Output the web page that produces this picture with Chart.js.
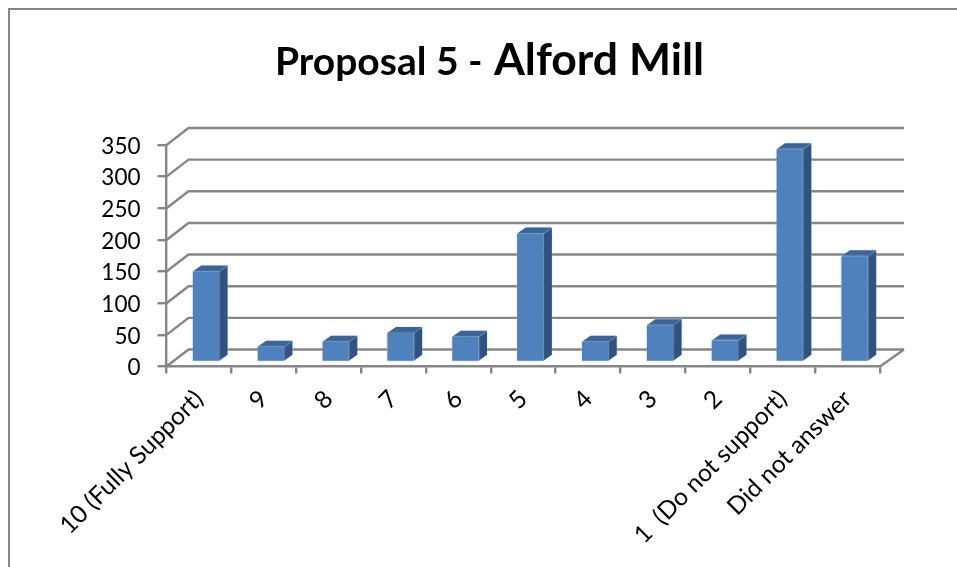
<!DOCTYPE html>
<html>
<head>
<meta charset="utf-8">
<title>Proposal 5 - Alford Mill</title>
<script src="https://cdn.jsdelivr.net/npm/chart.js@4/dist/chart.umd.min.js"></script>
<style>
  html, body { margin: 0; padding: 0; background: #fff; }
  #wrap { position: relative; width: 957px; height: 567px; overflow: hidden; }
  #frame { position: absolute; left: 8px; top: 8px; width: 960px; height: 570px; border-left: 2px solid #868686; border-top: 2px solid #868686; }
  #title { position: absolute; left: 275px; top: 31px; white-space: nowrap; font-family: Lato, sans-serif; font-weight: 700; color: #000; }
  #title .a { font-size: 39px; }
  #title .b { font-size: 44.5px; margin-left: 2px; }
  canvas { position: absolute; left: 0; top: 0; }
</style>
</head>
<body>
<div id="wrap">
  <div id="frame"></div>
  <canvas id="chart" width="957" height="567"></canvas>
  <div id="title"><span class="a">Proposal 5 - </span><span class="b">Alford Mill</span></div>
</div>
<script>
var categories = ['10 (Fully Support)', '9', '8', '7', '6', '5', '4', '3', '2', '1  (Do not support)', 'Did not answer'];
var votes = [143, 24, 32, 46, 40, 203, 32, 58, 34, 336, 167];
var yTicks = [0, 50, 100, 150, 200, 250, 300, 350];

var GRID = '#868686';
var FRONT = '#4f81bd';
var SIDE = '#30527e';
var TOP = '#3a659b';

// wall/floor offset and bar offset of the fake 3d
var WALL_X = 22, WALL_Y = 17;
var BAR_X = 7, BAR_Y = 4.5;
var DEPTH_X = 8.5, DEPTH_Y = 6;

var fake3d = {
  id: 'fake3d',
  beforeDatasetsDraw: function (chart) {
    var ctx = chart.ctx;
    var a = chart.chartArea;
    var y = chart.scales.y;
    ctx.save();
    ctx.strokeStyle = GRID;
    ctx.lineWidth = 2.4;
    yTicks.forEach(function (v) {
      var py = y.getPixelForValue(v);
      ctx.beginPath();
      ctx.moveTo(a.left, py);
      ctx.lineTo(a.left + WALL_X, py - WALL_Y);
      ctx.lineTo(a.right + WALL_X + 2, py - WALL_Y);
      ctx.stroke();
    });
    ctx.beginPath();
    ctx.moveTo(a.right, y.getPixelForValue(0));
    ctx.lineTo(a.right + WALL_X + 2, y.getPixelForValue(0) - WALL_Y);
    ctx.stroke();
    ctx.restore();

    // bars are moved to the middle of the floor depth
    ctx.save();
    ctx.translate(BAR_X, -BAR_Y);
    ctx.shadowColor = 'rgba(190,208,230,0.7)';
    ctx.shadowBlur = 2;
    chart.getDatasetMeta(0).data.forEach(function (bar) {
      var l = bar.x - bar.width / 2;
      var r = bar.x + bar.width / 2;
      ctx.fillStyle = SIDE;
      ctx.beginPath();
      ctx.moveTo(r, bar.y);
      ctx.lineTo(r + DEPTH_X, bar.y - DEPTH_Y);
      ctx.lineTo(r + DEPTH_X, bar.base - DEPTH_Y);
      ctx.lineTo(r, bar.base);
      ctx.closePath();
      ctx.fill();
      ctx.fillStyle = TOP;
      ctx.beginPath();
      ctx.moveTo(l, bar.y);
      ctx.lineTo(l + DEPTH_X, bar.y - DEPTH_Y);
      ctx.lineTo(r + DEPTH_X, bar.y - DEPTH_Y);
      ctx.lineTo(r, bar.y);
      ctx.closePath();
      ctx.fill();
    });
  },
  afterDatasetsDraw: function (chart) {
    chart.ctx.restore();
  }
};

new Chart(document.getElementById('chart'), {
  type: 'bar',
  data: {
    labels: categories,
    datasets: [{
      data: votes,
      backgroundColor: FRONT,
      barPercentage: 0.405,
      categoryPercentage: 1
    }]
  },
  plugins: [fake3d],
  options: {
    responsive: false,
    animation: false,
    layout: { padding: { top: 145, right: 77 } },
    plugins: { legend: { display: false }, tooltip: { enabled: false }, title: { display: false } },
    scales: {
      x: {
        afterFit: function (s) { s.height = 200.5; },
        grid: { drawOnChartArea: false, color: GRID, lineWidth: 2.4, tickLength: 7 },
        border: { color: GRID, width: 2.4 },
        ticks: { color: '#000', font: { family: 'Lato', size: 24.5 }, minRotation: 45, maxRotation: 45, autoSkip: false, padding: 11 }
      },
      y: {
        min: 0,
        max: 350,
        afterFit: function (s) { s.width = 166.5; },
        afterBuildTicks: function (s) { s.ticks = yTicks.map(function (v) { return { value: v }; }); },
        grid: { drawOnChartArea: false, color: GRID, lineWidth: 2.4, tickLength: 9 },
        border: { color: GRID, width: 2.4 },
        ticks: { color: '#000', font: { family: 'Lato', size: 22.5 }, padding: 17, labelOffset: 1.5 }
      }
    }
  }
});
</script>
</body>
</html>
